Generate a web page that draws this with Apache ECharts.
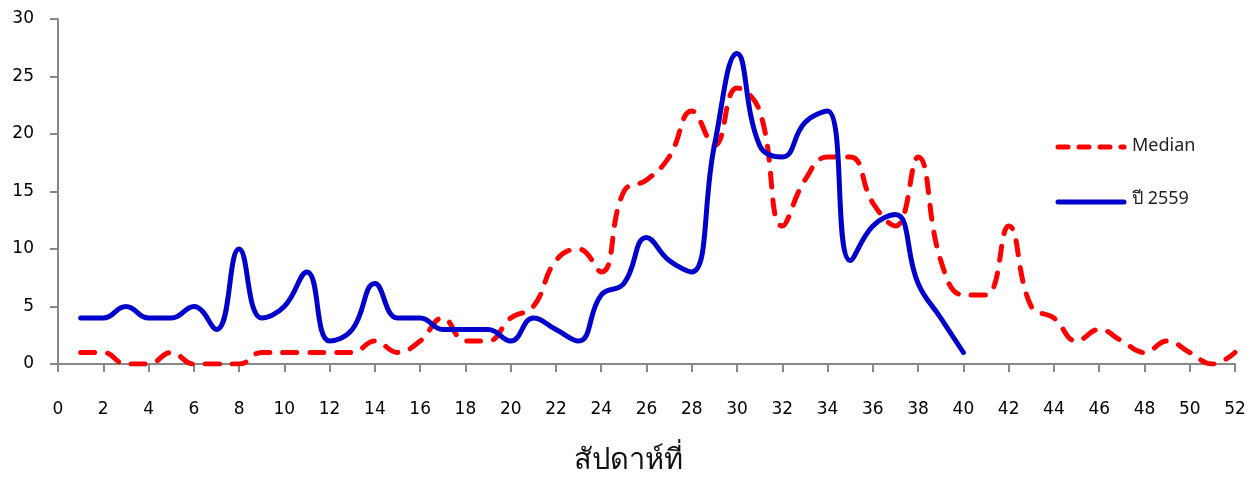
<!DOCTYPE html>
<html>
<head>
<meta charset="utf-8">
<script src="https://cdn.jsdelivr.net/npm/echarts@6/dist/echarts.min.js"></script>
<style>
html,body{margin:0;padding:0;background:#fff;}
#chart{width:1259px;height:477px;}
</style>
</head>
<body>
<div id="chart"></div>
<script>
var medianWeeks = [1,2,3,4,5,6,7,8,9,10,11,12,13,14,15,16,17,18,19,20,21,22,23,24,25,26,27,28,29,30,31,32,33,34,35,36,37,38,39,40,41,42,43,44,45,46,47,48,49,50,51,52];
var medianValues = [1,1,0,0,1,0,0,0,1,1,1,1,1,2,1,2,4,2,2,4,5,9,10,8,15,16,18,22,19,24,22,12,16,18,18,14,12,18,9,6,6,12,5,4,2,3,2,1,2,1,0,1];
var yearWeeks = [1,2,3,4,5,6,7,8,9,10,11,12,13,14,15,16,17,18,19,20,21,22,23,24,25,26,27,28,29,30,31,32,33,34,35,36,37,38,39,40];
var yearValues = [4,4,5,4,4,5,3,10,4,5,8,2,3,7,4,4,3,3,3,2,4,3,2,6,7,11,9,8,19,27,19,18,21,22,9,12,13,7,4,1];
var seriesNames = ['Median', 'ปี 2559'];
var xTitle = 'สัปดาห์ที่';

function pairs(xs, ys){ return xs.map(function(x,i){ return [x, ys[i]]; }); }

var RED = '#FF0000', BLUE = '#0000CC';
var chart = echarts.init(document.getElementById('chart'));
var labelFont = {fontFamily:'DejaVu Sans', fontSize:17, color:'#000'};
chart.setOption({
  animation:false,
  backgroundColor:'#fff',
  grid:{left:58, right:24, top:19, bottom:113},
  title:{
    text:xTitle, left:569, top:441,
    textStyle:{fontFamily:'Noto Sans, DejaVu Sans, sans-serif', fontSize:29, fontWeight:'normal', color:'#111'}
  },
  graphic:[
    {type:'line', shape:{x1:1058, y1:147, x2:1124, y2:147}, style:{stroke:RED, lineWidth:5, lineDash:[10,11], lineCap:'round'}},
    {type:'text', left:1132, top:137, style:{text:seriesNames[0], font:'18px "Noto Sans"', fill:'#222'}},
    {type:'line', shape:{x1:1058, y1:202, x2:1124, y2:202}, style:{stroke:BLUE, lineWidth:5, lineCap:'round'}},
    {type:'text', left:1132, top:190, style:{text:seriesNames[1], font:'18px "Noto Sans"', fill:'#222'}}
  ],
  xAxis:{
    type:'value', min:0, max:52, interval:2,
    axisLine:{lineStyle:{color:'#888', width:2}},
    axisTick:{show:true, length:8, lineStyle:{color:'#888', width:2}},
    axisLabel:Object.assign({margin:37}, labelFont),
    splitLine:{show:false}
  },
  yAxis:{
    type:'value', min:0, max:30, interval:5,
    axisLine:{show:true, lineStyle:{color:'#888', width:2}},
    axisTick:{show:true, length:8, lineStyle:{color:'#888', width:2}},
    axisLabel:Object.assign({margin:24}, labelFont),
    splitLine:{show:false}
  },
  series:[
    {
      name:seriesNames[0], type:'line', smooth:0.45, showSymbol:false, symbol:'none',
      data:pairs(medianWeeks, medianValues),
      lineStyle:{color:RED, width:5, type:[14,13], cap:'round'},
      itemStyle:{color:RED}, z:2
    },
    {
      name:seriesNames[1], type:'line', smooth:0.45, showSymbol:false, symbol:'none',
      data:pairs(yearWeeks, yearValues),
      lineStyle:{color:BLUE, width:5, cap:'round'},
      itemStyle:{color:BLUE}, z:3
    }
  ]
});
</script>
</body>
</html>
